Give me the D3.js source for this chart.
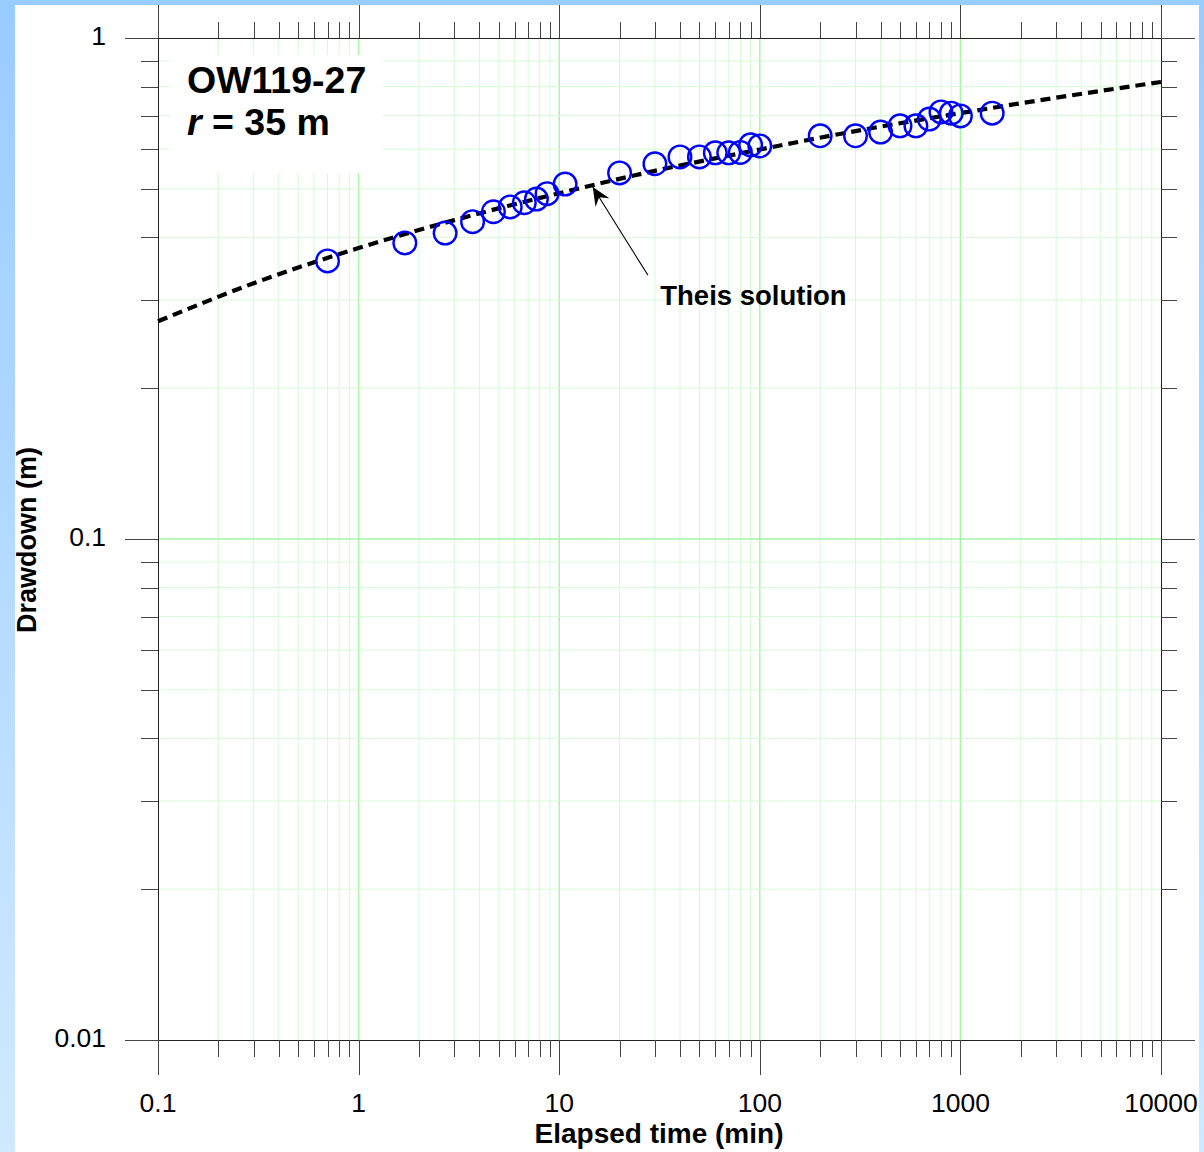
<!DOCTYPE html>
<html>
<head>
<meta charset="utf-8">
<script src="https://cdn.jsdelivr.net/npm/d3@7"></script>
<style>
  html, body { margin: 0; padding: 0; background: #fff; }
  svg { display: block; }
  text { font-family: "Liberation Sans", Arial, sans-serif; fill: #000; }
</style>
</head>
<body>
<script>
// ---- data ----
const times = [0.7, 1.7, 2.7, 3.7, 4.7, 5.7, 6.7, 7.7, 8.7, 10.7, 20, 30, 40, 50, 60, 70, 80, 90, 100, 200, 300, 400, 500, 600, 700, 800, 900, 1000, 1440];
const drawdowns = [0.359, 0.390, 0.408, 0.430, 0.450, 0.460, 0.469, 0.477, 0.489, 0.511, 0.538, 0.561, 0.579, 0.579, 0.590, 0.590, 0.591, 0.612, 0.609, 0.638, 0.638, 0.649, 0.668, 0.668, 0.689, 0.712, 0.708, 0.699, 0.708];

const theisTimes = [0.1, 0.3, 1, 3, 10, 30, 100, 300, 1000, 3000, 10000];
const theisDrawdowns = [0.272, 0.324, 0.381, 0.433, 0.490, 0.543, 0.599, 0.652, 0.708, 0.760, 0.817];

const xTickLabels = ["0.1", "1", "10", "100", "1000", "10000"];
const xMajorValues = [0.1, 1, 10, 100, 1000, 10000];
const yTickLabels = ["0.01", "0.1", "1"];
const yMajorValues = [0.01, 0.1, 1];

const wellName = "OW119-27";
const radiusLabel = "35 m";
const annotationText = "Theis solution";
const annotationTip = [14.7, 0.504];
const annotationTail = [27.7, 0.336];
const annotationTextPos = [31.9, 0.293];

const xTitle = "Elapsed time (min)";
const yTitle = "Drawdown (m)";

// ---- layout ----
const W = 1204, H = 1152;
const L = 158, R = 1161, T = 38, B = 1040;

const svg = d3.select("body").append("svg").attr("width", W).attr("height", H);

const defs = svg.append("defs");
const grad = defs.append("linearGradient").attr("id", "bg").attr("x1", 0).attr("y1", 0).attr("x2", 0).attr("y2", 1);
grad.append("stop").attr("offset", "0%").attr("stop-color", "#99ccff");
grad.append("stop").attr("offset", "100%").attr("stop-color", "#d0e9ff");

svg.append("rect").attr("width", W).attr("height", H).attr("fill", "url(#bg)");
svg.append("rect").attr("x", 15).attr("y", 5).attr("width", 1184).attr("height", H - 5).attr("fill", "#fff");

const x = d3.scaleLog().domain([0.1, 10000]).range([L, R]);
const y = d3.scaleLog().domain([0.01, 1]).range([B, T]);

const xTicks = x.ticks();
const yTicks = y.ticks();
const isMajor = v => Math.abs(Math.log10(v) - Math.round(Math.log10(v))) < 1e-9;

// grid
const grid = svg.append("g");
grid.selectAll("line.vx").data(xTicks.filter(v => v > 0.1 && v < 10000)).enter().append("line")
  .attr("x1", d => x(d)).attr("x2", d => x(d)).attr("y1", T).attr("y2", B)
  .attr("stroke", d => isMajor(d) ? "#a4f5a4" : "#d6fbd6")
  .attr("stroke-width", d => isMajor(d) ? 1.4 : 1);
grid.selectAll("line.hy").data(yTicks.filter(v => v > 0.01 && v < 1)).enter().append("line")
  .attr("y1", d => y(d)).attr("y2", d => y(d)).attr("x1", L).attr("x2", R)
  .attr("stroke", d => isMajor(d) ? "#a4f5a4" : "#d6fbd6")
  .attr("stroke-width", d => isMajor(d) ? 1.4 : 1);

// label box
svg.append("rect").attr("x", 170).attr("y", 55).attr("width", 213).attr("height", 118).attr("fill", "#fff");

// axes frame lines
const axisC = "#222", tickC = "#444";
const frame = svg.append("g").attr("stroke", axisC).attr("stroke-width", 1).attr("shape-rendering", "crispEdges");
frame.append("line").attr("x1", 125).attr("x2", 1195).attr("y1", T).attr("y2", T);
frame.append("line").attr("x1", 125).attr("x2", 1195).attr("y1", B).attr("y2", B);
frame.append("line").attr("x1", L).attr("x2", L).attr("y1", 5).attr("y2", 1075);
frame.append("line").attr("x1", R).attr("x2", R).attr("y1", 5).attr("y2", 1075);

// x ticks (top and bottom) via d3 axes
const xAxisB = d3.axisBottom(x).tickValues(xTicks).tickSize(17).tickFormat("");
const gxB = svg.append("g").attr("transform", `translate(0,${B})`).call(xAxisB);
gxB.selectAll(".tick line").attr("y2", d => isMajor(d) ? 35 : 17);
const xAxisT = d3.axisTop(x).tickValues(xTicks).tickSize(16).tickFormat("");
const gxT = svg.append("g").attr("transform", `translate(0,${T})`).call(xAxisT);
gxT.selectAll(".tick line").attr("y2", d => isMajor(d) ? -(T - 5) : -16);

const yAxisL = d3.axisLeft(y).tickValues(yTicks).tickSize(17).tickFormat("");
const gyL = svg.append("g").attr("transform", `translate(${L},0)`).call(yAxisL);
gyL.selectAll(".tick line").attr("x2", d => isMajor(d) ? -33 : -17);
const yAxisR = d3.axisRight(y).tickValues(yTicks).tickSize(16).tickFormat("");
const gyR = svg.append("g").attr("transform", `translate(${R},0)`).call(yAxisR);
gyR.selectAll(".tick line").attr("x2", d => isMajor(d) ? 34 : 16);

[gxB, gxT, gyL, gyR].forEach(g => {
  g.select(".domain").remove();
  g.selectAll(".tick line").attr("stroke", tickC).attr("shape-rendering", "crispEdges");
});

// tick labels
svg.append("g").selectAll("text").data(xMajorValues).enter().append("text")
  .attr("x", d => x(d)).attr("y", 1112).attr("text-anchor", "middle")
  .attr("font-size", 26.5).text((d, i) => xTickLabels[i]);
svg.append("g").selectAll("text").data(yMajorValues).enter().append("text")
  .attr("x", 106).attr("y", d => y(d) + 7).attr("text-anchor", "end")
  .attr("font-size", 26.5).text((d, i) => yTickLabels[i]);

// axis titles
svg.append("text").attr("x", 659).attr("y", 1143).attr("text-anchor", "middle")
  .attr("font-size", 28).attr("font-weight", "bold").text(xTitle);
svg.append("text").attr("transform", "translate(36,540) rotate(-90)").attr("text-anchor", "middle")
  .attr("font-size", 27).attr("font-weight", "bold").text(yTitle);

// Theis curve
const theis = theisTimes.map((t, i) => [t, theisDrawdowns[i]]);
svg.append("path").datum(theis)
  .attr("d", d3.line().x(d => x(d[0])).y(d => y(d[1])).curve(d3.curveMonotoneX))
  .attr("fill", "none").attr("stroke", "#000").attr("stroke-width", 4.2)
  .attr("stroke-dasharray", "10,6");

// observations
svg.append("g").selectAll("circle").data(times.map((t, i) => [t, drawdowns[i]])).enter().append("circle")
  .attr("cx", d => x(d[0])).attr("cy", d => y(d[1])).attr("r", 11.3)
  .attr("fill", "none").attr("stroke", "#0000ff").attr("stroke-width", 2.4);

// annotation arrow
const tx = x(annotationTip[0]), ty = y(annotationTip[1]);
const ax = x(annotationTail[0]), ay = y(annotationTail[1]);
svg.append("line").attr("x1", ax).attr("y1", ay).attr("x2", tx).attr("y2", ty)
  .attr("stroke", "#000").attr("stroke-width", 1.1);
{
  const ang = Math.atan2(ty - ay, tx - ax);
  const len = 20, half = 0.42, notch = 12;
  const p1 = [tx - len * Math.cos(ang - half), ty - len * Math.sin(ang - half)];
  const p2 = [tx - len * Math.cos(ang + half), ty - len * Math.sin(ang + half)];
  const pn = [tx - notch * Math.cos(ang), ty - notch * Math.sin(ang)];
  svg.append("path").attr("d", `M${tx},${ty}L${p1[0]},${p1[1]}L${pn[0]},${pn[1]}L${p2[0]},${p2[1]}Z`)
    .attr("fill", "#000");
}
svg.append("text").attr("x", x(annotationTextPos[0])).attr("y", y(annotationTextPos[1]))
  .attr("font-size", 27.5).attr("font-weight", "bold").text(annotationText);

// well label
svg.append("text").attr("x", 187).attr("y", 93).attr("font-size", 37.5).attr("font-weight", "bold").text(wellName);
const t2 = svg.append("text").attr("x", 187).attr("y", 135).attr("font-size", 37.5).attr("font-weight", "bold");
t2.append("tspan").attr("font-style", "italic").text("r");
t2.append("tspan").text(" = " + radiusLabel);
</script>
</body>
</html>
